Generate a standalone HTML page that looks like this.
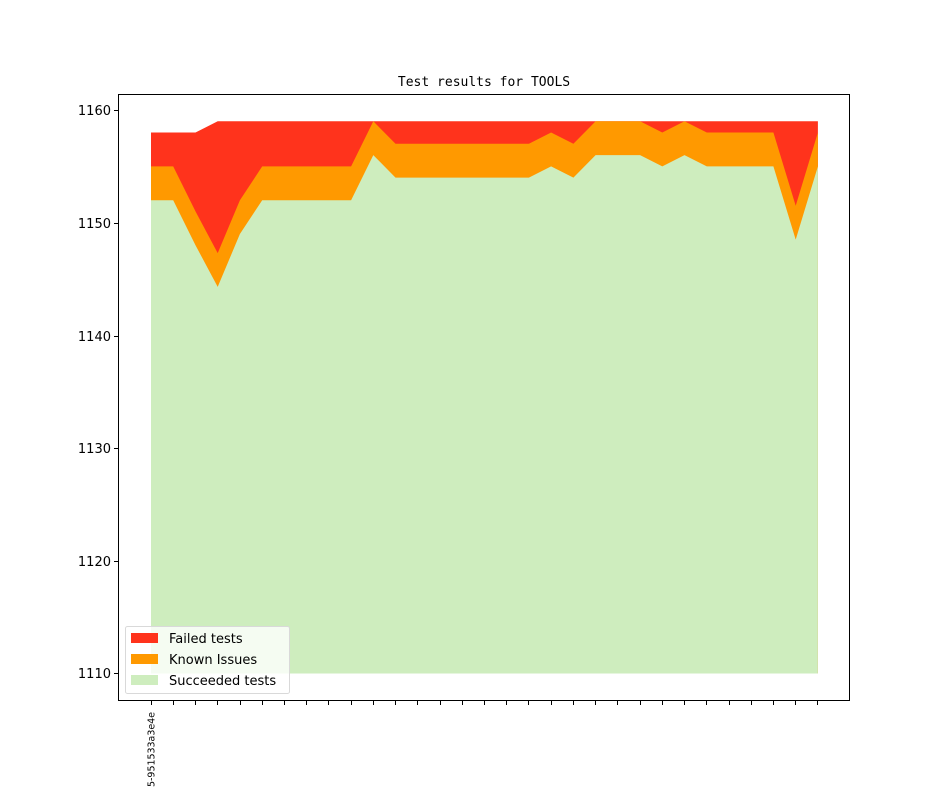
<!DOCTYPE html>
<html><head><meta charset="utf-8"><style>html,body{margin:0;background:#fff;width:944px;height:787px;overflow:hidden}svg{display:block;overflow:hidden}</style></head>
<body>
<svg width="944" height="787" viewBox="0 0 944 787" xmlns="http://www.w3.org/2000/svg" font-family="DejaVu Sans, Liberation Sans, sans-serif">
<rect width="944" height="787" fill="#fff"/>
<text x="484" y="86" text-anchor="middle" font-family="DejaVu Sans Mono, Liberation Mono, monospace" font-size="13">Test results for TOOLS</text>
<polygon fill="#ff331c" points="151,673.5 151,132.5 173.2,132.5 195.5,132.5 217.7,121.3 817.9,121.3 817.9,673.5"/>
<polygon fill="#ff9900" points="151,673.5 151,166.4 173.2,166.4 195.5,211.4 217.7,253.1 239.9,200.2 262.2,166.4 351.1,166.4 373.3,121.3 395.5,143.8 528.9,143.8 551.1,132.5 573.4,143.8 595.6,121.3 640.1,121.3 662.3,132.5 684.5,121.3 706.8,132.5 773.4,132.5 795.7,205.8 817.9,132.5 817.9,673.5"/>
<polygon fill="#ceedbe" points="151,673.5 151,200.2 173.2,200.2 195.5,245.2 217.7,286.9 239.9,234 262.2,200.2 351.1,200.2 373.3,155.1 395.5,177.6 528.9,177.6 551.1,166.4 573.4,177.6 595.6,155.1 640.1,155.1 662.3,166.4 684.5,155.1 706.8,166.4 773.4,166.4 795.7,239.6 817.9,166.4 817.9,673.5"/>
<rect x="118.5" y="94.5" width="731" height="606" fill="none" stroke="#000" stroke-width="1"/>
<g stroke="#000" stroke-width="1">
<line x1="114" y1="110.5" x2="118" y2="110.5"/>
<line x1="114" y1="223.5" x2="118" y2="223.5"/>
<line x1="114" y1="336.5" x2="118" y2="336.5"/>
<line x1="114" y1="448.5" x2="118" y2="448.5"/>
<line x1="114" y1="561.5" x2="118" y2="561.5"/>
<line x1="114" y1="673.5" x2="118" y2="673.5"/>
</g>
<g font-size="13" text-anchor="end">
<text x="111" y="115">1160</text>
<text x="111" y="228">1150</text>
<text x="111" y="341">1140</text>
<text x="111" y="453">1130</text>
<text x="111" y="566">1120</text>
<text x="111" y="678">1110</text>
</g>
<g stroke="#000" stroke-width="1">
<line x1="151.5" y1="701" x2="151.5" y2="705"/><line x1="173.5" y1="701" x2="173.5" y2="705"/><line x1="195.5" y1="701" x2="195.5" y2="705"/><line x1="217.5" y1="701" x2="217.5" y2="705"/><line x1="240.5" y1="701" x2="240.5" y2="705"/><line x1="262.5" y1="701" x2="262.5" y2="705"/><line x1="284.5" y1="701" x2="284.5" y2="705"/><line x1="306.5" y1="701" x2="306.5" y2="705"/><line x1="328.5" y1="701" x2="328.5" y2="705"/><line x1="351.5" y1="701" x2="351.5" y2="705"/><line x1="373.5" y1="701" x2="373.5" y2="705"/><line x1="395.5" y1="701" x2="395.5" y2="705"/><line x1="417.5" y1="701" x2="417.5" y2="705"/><line x1="440.5" y1="701" x2="440.5" y2="705"/><line x1="462.5" y1="701" x2="462.5" y2="705"/><line x1="484.5" y1="701" x2="484.5" y2="705"/><line x1="506.5" y1="701" x2="506.5" y2="705"/><line x1="528.5" y1="701" x2="528.5" y2="705"/><line x1="551.5" y1="701" x2="551.5" y2="705"/><line x1="573.5" y1="701" x2="573.5" y2="705"/><line x1="595.5" y1="701" x2="595.5" y2="705"/><line x1="617.5" y1="701" x2="617.5" y2="705"/><line x1="640.5" y1="701" x2="640.5" y2="705"/><line x1="662.5" y1="701" x2="662.5" y2="705"/><line x1="684.5" y1="701" x2="684.5" y2="705"/><line x1="706.5" y1="701" x2="706.5" y2="705"/><line x1="729.5" y1="701" x2="729.5" y2="705"/><line x1="751.5" y1="701" x2="751.5" y2="705"/><line x1="773.5" y1="701" x2="773.5" y2="705"/><line x1="795.5" y1="701" x2="795.5" y2="705"/><line x1="817.5" y1="701" x2="817.5" y2="705"/>
</g>
<text transform="translate(154.5,712) rotate(-90)" text-anchor="end" font-size="10" textLength="75" lengthAdjust="spacingAndGlyphs">5-951533a3e4e</text>
<rect x="125.5" y="626.5" width="164" height="67" rx="2" fill="#fff" fill-opacity="0.8" stroke="#d9d9d9"/>
<rect x="131" y="633" width="27" height="10" fill="#ff331c"/>
<rect x="131" y="654" width="27" height="10" fill="#ff9900"/>
<rect x="131" y="675" width="27" height="10" fill="#ceedbe"/>
<g font-size="13">
<text x="169" y="643">Failed tests</text>
<text x="169" y="664">Known Issues</text>
<text x="169" y="685">Succeeded tests</text>
</g>
</svg>
</body></html>
